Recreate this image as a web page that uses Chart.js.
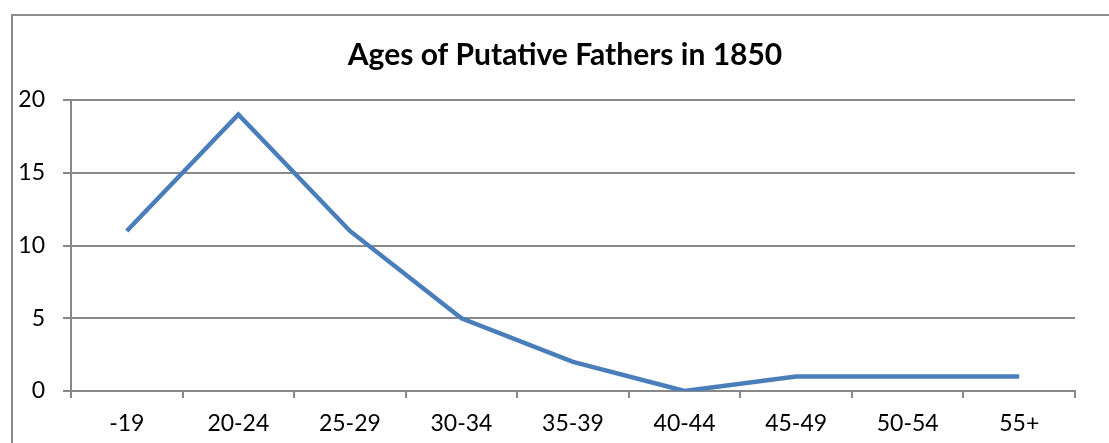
<!DOCTYPE html>
<html>
<head>
<meta charset="utf-8">
<script src="https://cdn.jsdelivr.net/npm/chart.js@4"></script>
<style>
  html, body { margin: 0; padding: 0; background: #fff; }
  #marco { position: relative; width: 1109px; height: 443px; overflow: hidden; }
  #borde { position: absolute; left: 11px; top: 14px; width: 1200px; height: 500px;
           border-left: 2px solid #8c8c8c; border-top: 2px solid #8c8c8c; }
  #grafico { position: absolute; left: 0; top: 0; }
</style>
</head>
<body>
<div id="marco">
  <div id="borde"></div>
  <canvas id="grafico" width="1109" height="443"></canvas>
</div>
<script>
// Datos del gráfico
const grupos = ['-19', '20-24', '25-29', '30-34', '35-39', '40-44', '45-49', '50-54', '55+'];
const padres = [11, 19, 11, 5, 2, 0, 1, 1, 1];
const titulo = 'Ages of Putative Fathers in 1850';

const fuente = 'Lato, "Open Sans", sans-serif';
const gris = '#888888';

// Título centrado sobre el marco (no sobre el lienzo)
const tituloMarco = {
    id: 'tituloMarco',
    afterDraw(chart) {
        const c = chart.ctx;
        c.save();
        c.font = 'bold 30px ' + fuente;
        c.fillStyle = '#000';
        c.textAlign = 'center';
        c.textBaseline = 'middle';
        c.fillText(titulo, 565, 55);
        c.restore();
    }
};

const ctx = document.getElementById('grafico');
new Chart(ctx, {
    type: 'line',
    data: {
        labels: grupos,
        datasets: [{
            label: 'Fathers',
            data: padres,
            borderColor: '#4a7ebb',
            borderWidth: 4.5,
            pointRadius: 0,
            tension: 0,
            fill: false
        }]
    },
    options: {
        responsive: false,
        animation: false,
        layout: { padding: { left: 16, right: 34, top: 100, bottom: 0 } },
        plugins: {
            legend: { display: false },
            tooltip: { enabled: false },
            title: { display: false }
        },
        scales: {
            x: {
                offset: true,
                grid: { display: true, drawOnChartArea: false, offset: true, color: gris, lineWidth: 2, tickLength: 7 },
                border: { color: gris, width: 2 },
                ticks: { color: '#000', font: { family: fuente, size: 23 }, padding: 12, maxRotation: 0, autoSkip: false },
                afterFit: (escala) => { escala.height = 52; }
            },
            y: {
                min: 0,
                max: 20,
                ticks: { stepSize: 5, color: '#000', font: { family: fuente, size: 23 }, padding: 18 },
                grid: { color: gris, lineWidth: 2, tickLength: 8 },
                border: { color: gris, width: 2 },
                afterFit: (escala) => { escala.width = 55; }
            }
        }
    },
    plugins: [tituloMarco]
});
</script>
</body>
</html>
